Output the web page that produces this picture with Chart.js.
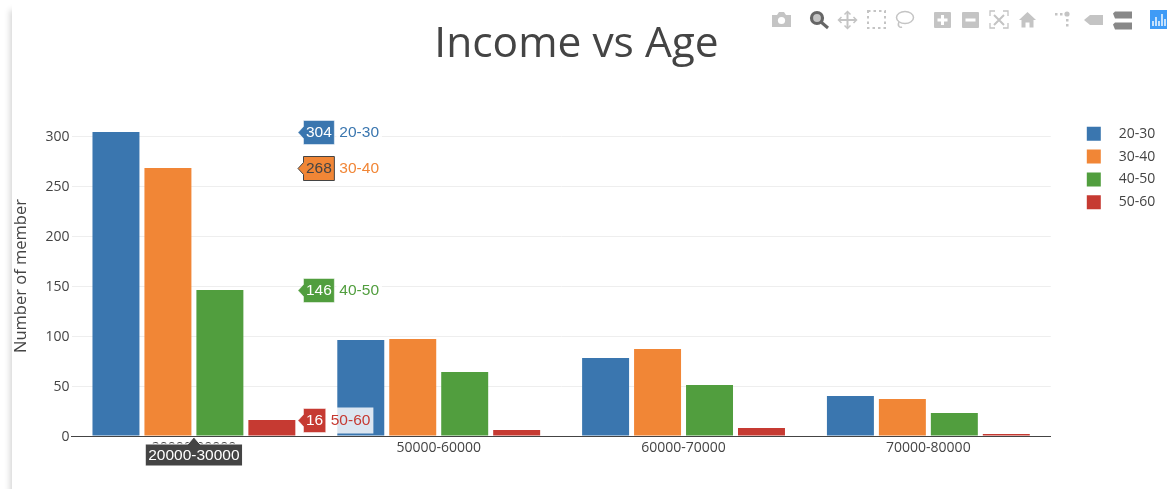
<!DOCTYPE html>
<html><head><meta charset="utf-8">
<style>
html,body{margin:0;padding:0;background:#fff;width:1167px;height:489px;overflow:hidden}
#page{position:absolute;left:12px;top:0;width:1155px;height:489px;background:#fff;box-shadow:-2px 10px 6px rgba(0,0,0,.17)}
#c{position:absolute;left:0;top:0}
#bar{position:absolute;left:0;top:0}
</style>
<script src="https://cdn.jsdelivr.net/npm/chart.js@4"></script>
</head><body>
<div id="page"></div>
<canvas id="c" width="1167" height="489"></canvas>
<svg id="bar" width="1167" height="40" viewBox="0 0 1167 40">
 <g fill="#c4c4c4">
  <path d="M772 15h5l2-3h5l2 3h5v12h-19z"/><circle cx="781.5" cy="20.5" r="3.6" fill="#fff"/>
  <rect x="934" y="12" width="17" height="16" rx="1"/><rect x="962" y="12" width="17" height="16" rx="1"/>
  <path d="M1019 20l8.500-8 8.500 8h-2.500v7.500h-4v-5h-4v5h-4v-7.500z"/>
  <circle cx="1067" cy="14" r="2.600"/><rect x="1055" y="13" width="2.500" height="2.500"/><rect x="1060" y="13" width="2.500" height="2.500"/><rect x="1066" y="19" width="2.500" height="2.500"/><rect x="1066" y="24" width="2.500" height="2.500"/>
  <path d="M1084 20l6-5h13v10h-13z"/>
 </g>
 <g fill="#888"><path d="M1113 14l2-2h17v7h-17zM1113 25l2-2h17v7h-17z" transform="translate(0,-.5)"/></g>
 <g fill="#fff"><rect x="941" y="15" width="3" height="10"/><rect x="937.500" y="18.500" width="10" height="3"/><rect x="965.500" y="18.500" width="10" height="3"/></g>
 <circle cx="817" cy="18" r="5.500" fill="#c4c4c4" stroke="#666" stroke-width="3.200"/><path d="M821 22l7 6" stroke="#666" stroke-width="3" fill="none"/>
 <g stroke="#c4c4c4" fill="none">
  <path d="M847.500 12v16M839 20h17" stroke-width="2"/><path d="M844.500 14.500l3-3 3 3M844.500 25.500l3 3 3-3M841.500 17l-3 3 3 3M853.500 17l3 3-3 3" stroke-width="1.500"/>
  <rect x="868" y="11" width="17" height="17" stroke-width="2" stroke-dasharray="2.500 3"/>
  <ellipse cx="905" cy="17.500" rx="8.500" ry="6" stroke-width="1.500"/><path d="M899 22c-2 4 1 6 3 5" stroke-width="1.500"/>
  <path d="M990 16v-5h5M1003 11h5v5M1008 23v5h-5M995 28h-5v-5" stroke-width="1.300"/><path d="M994 15l10 10M1004 15l-10 10" stroke-width="2"/>
 </g>
 <rect x="1150" y="10" width="17" height="19" fill="#3f9bf6"/>
 <g stroke="#fff" stroke-width="1.400"><path d="M1153 21v5M1156 17v9M1159 21v5M1162 14v12M1165 19v7"/></g>
</svg>
<script>
const categories = ["20000-30000", "50000-60000", "60000-70000", "70000-80000"];
const seriesNames = ["20-30", "30-40", "40-50", "50-60"];
const age2030 = [304, 96, 78, 40];
const age3040 = [268, 97, 87, 37];
const age4050 = [146, 64, 51, 23];
const age5060 = [16, 6, 8, 2];
const seriesColors = ["#3a76af", "#f18636", "#519e3e", "#c63a32"];
const yTicks = [0, 50, 100, 150, 200, 250, 300];
const hoverIndex = 0;

const seriesValues = [age2030, age3040, age4050, age5060];

const hoverPlugin = {
  id: "hover",
  afterDraw(chart) {
    const ctx = chart.ctx;
    const x = chart.scales.x;
    ctx.save();
    ctx.font = "15.500px 'Liberation Sans', Arial, sans-serif";
    ctx.textBaseline = "middle";
    seriesNames.forEach((name, i) => {
      const el = chart.getDatasetMeta(i).data[hoverIndex];
      const val = String(seriesValues[i][hoverIndex]);
      const y = el.y + 0.5;
      const tip = 298;
      const boxL = tip + 5.5;
      const tw = ctx.measureText(val).width;
      const boxR = boxL + tw + 5;
      const light = i === 1;
      const nw = ctx.measureText(name).width;
      const nx = boxR + 5;
      ctx.fillStyle = "rgba(255,255,255,0.82)";
      ctx.fillRect(nx - 3, y - 13, nw + 6, 26);
      ctx.fillStyle = seriesColors[i];
      ctx.beginPath();
      ctx.moveTo(tip, y);
      ctx.lineTo(boxL, y - 6);
      ctx.lineTo(boxL, y - 12);
      ctx.lineTo(boxR, y - 12);
      ctx.lineTo(boxR, y + 12);
      ctx.lineTo(boxL, y + 12);
      ctx.lineTo(boxL, y + 6);
      ctx.closePath();
      ctx.fill();
      ctx.strokeStyle = light ? "#444" : "rgba(255,255,255,.5)";
      ctx.lineWidth = 1;
      ctx.stroke();
      ctx.fillStyle = light ? "#444" : "#fff";
      ctx.textAlign = "left";
      ctx.fillText(val, boxL + 2.5, y + 0.5);
      ctx.fillStyle = seriesColors[i];
      ctx.fillText(name, nx, y + 0.5);
    });
    const cx = x.getPixelForValue(hoverIndex);
    const top = chart.scales.y.getPixelForValue(0);
    const label = categories[hoverIndex];
    const w = ctx.measureText(label).width + 6;
    ctx.fillStyle = "#444";
    ctx.strokeStyle = "#fff";
    ctx.beginPath();
    ctx.moveTo(cx, top + 1);
    ctx.lineTo(cx + 6, top + 8);
    ctx.lineTo(cx + w / 2, top + 8);
    ctx.lineTo(cx + w / 2, top + 30);
    ctx.lineTo(cx - w / 2, top + 30);
    ctx.lineTo(cx - w / 2, top + 8);
    ctx.lineTo(cx - 6, top + 8);
    ctx.closePath();
    ctx.fill();
    ctx.stroke();
    ctx.fillStyle = "#fff";
    ctx.textAlign = "center";
    ctx.fillText(label, cx, top + 19.5);
    ctx.restore();
  }
};

const legendPlace = {
  id: "legendPlace",
  afterLayout(chart) {
    const l = chart.legend;
    const w = l.right - l.left, h = l.bottom - l.top;
    l.left = 1078; l.right = 1078 + w; l.top = 118; l.bottom = 118 + h;
    if (l.adjustHitBoxes) l.adjustHitBoxes();
  }
};

new Chart(document.getElementById("c"), {
  type: "bar",
  data: {
    labels: categories,
    datasets: seriesNames.map((n, i) => ({
      label: n,
      data: seriesValues[i],
      backgroundColor: seriesColors[i],
      barPercentage: 0.904,
      categoryPercentage: 0.849
    }))
  },
  plugins: [hoverPlugin, legendPlace],
  options: {
    responsive: false,
    animation: false,
    events: [],
    layout: { padding: { top: 0, right: 29, bottom: 0, left: 15 } },
    plugins: {
      tooltip: { enabled: false },
      title: {
        display: true,
        text: "Income vs Age",
        color: "#444",
        font: { family: "'Open Sans'", size: 42.500, weight: "normal", lineHeight: 1 },
        padding: { top: 24, bottom: 49.500 }
      },
      legend: {
        display: true,
        position: "right",
        align: "start",
        labels: {
          boxWidth: 14,
          boxHeight: 14,
          padding: 8.800,
          color: "#444",
          font: { family: "'Open Sans'", size: 14 },
          generateLabels(chart) {
            return seriesNames.map((n, i) => ({
              text: "   " + n, fillStyle: seriesColors[i], strokeStyle: seriesColors[i],
              lineWidth: 0, fontColor: "#444", datasetIndex: i
            }));
          }
        }
      }
    },
    scales: {
      x: {
        afterFit(s) { s.height = 53; },
        grid: { display: false, drawTicks: false },
        border: { color: "#444", width: 1 },
        ticks: { color: "#444", font: { family: "'Open Sans'", size: 14 }, padding: 4, maxRotation: 0 }
      },
      y: {
        min: 0,
        max: 320,
        afterFit(s) { s.width = 56.5; },
        afterBuildTicks(s) { s.ticks = yTicks.map(v => ({ value: v })); },
        grid: { color: "#eeeeee", drawTicks: false },
        border: { display: false },
        title: {
          display: true, text: "Number of member", color: "#444",
          font: { family: "'Open Sans'", size: 16.500 }, padding: { top: -4, bottom: 8 }
        },
        ticks: { color: "#444", font: { family: "'Open Sans'", size: 14 }, padding: 2, labelOffset: 1 }
      }
    }
  }
});
</script>
</body></html>
